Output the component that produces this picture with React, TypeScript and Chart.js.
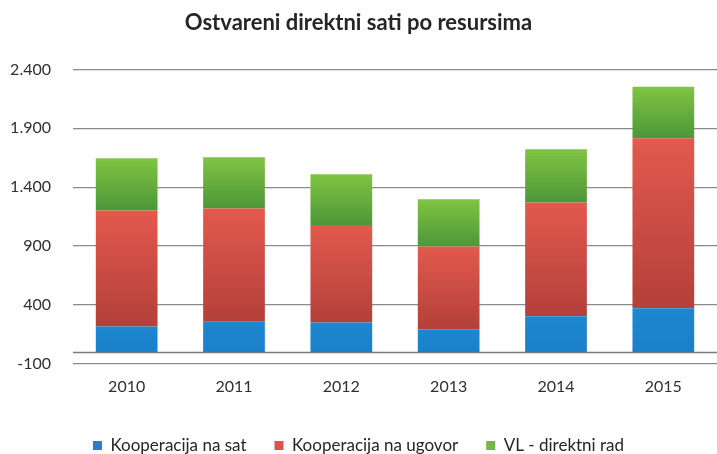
import React, { useEffect, useRef } from 'react';
import { Chart, registerables } from 'chart.js';

Chart.register(...registerables);

const TITLE = 'Ostvareni direktni sati po resursima';
const years = ['2010', '2011', '2012', '2013', '2014', '2015'];
const seriesNames = ['Kooperacija na sat', 'Kooperacija na ugovor', 'VL - direktni rad'];
const kooperacijaNaSat = [216, 258, 250, 194, 304, 372];
const kooperacijaNaUgovor = [986, 961, 828, 703, 966, 1443];
const vlDirektniRad = [444, 435, 432, 401, 452, 438];
const Y_MIN = -100;
const Y_MAX = 2400;
const Y_STEP = 500;

const seriesData = [kooperacijaNaSat, kooperacijaNaUgovor, vlDirektniRad];
// [top colour, bottom colour, legend colour]
const palette = [
  ['#1d87d1', '#1a80c8', '#2b7cc6'],
  ['#e3594d', '#b3403a', '#d9544e'],
  ['#80c442', '#4c9739', '#7ab648'],
];

const fmt = (v: number) => String(v).replace(/\B(?=(\d{3})+(?!\d))/g, '.');

const zeroLine = {
  id: 'zeroLine',
  beforeDatasetsDraw(chart: any) {
    const { ctx, chartArea, scales } = chart;
    const y = Math.round(scales.y.getPixelForValue(0)) + 0.5;
    ctx.save();
    ctx.strokeStyle = '#7a7a7a';
    ctx.lineWidth = 1.5;
    ctx.beginPath();
    ctx.moveTo(chartArea.left, y);
    ctx.lineTo(chartArea.right, y);
    ctx.stroke();
    ctx.restore();
  },
};

export default function App() {
  const ref = useRef<HTMLCanvasElement | null>(null);

  useEffect(() => {
    document.body.style.margin = '0';
    const canvas = ref.current;
    if (!canvas) return;

    const gradientFor = (si: number) => (ctx: any) => {
      const chart = ctx.chart;
      const yScale = chart.scales && chart.scales.y;
      const i = ctx.dataIndex;
      if (!yScale || i === undefined || !chart.chartArea) return palette[si][0];
      let base = 0;
      for (let k = 0; k < si; k++) base += seriesData[k][i];
      const top = base + seriesData[si][i];
      const y0 = yScale.getPixelForValue(top);
      const y1 = yScale.getPixelForValue(base);
      if (!isFinite(y0) || !isFinite(y1) || y0 === y1) return palette[si][0];
      const g = chart.ctx.createLinearGradient(0, y0, 0, y1);
      g.addColorStop(0, palette[si][0]);
      g.addColorStop(1, palette[si][1]);
      return g;
    };

    const chart = new Chart(canvas, {
      type: 'bar',
      data: {
        labels: years,
        datasets: seriesNames.map((name, si) => ({
          label: name,
          data: seriesData[si],
          backgroundColor: gradientFor(si),
          borderWidth: 0,
          categoryPercentage: 1,
          barPercentage: 0.575,
        })),
      },
      plugins: [zeroLine],
      options: {
        animation: false,
        responsive: false,
        maintainAspectRatio: false,
        layout: { padding: { left: 0, right: 0, top: 8, bottom: -10 } },
        plugins: {
          title: {
            display: true,
            text: TITLE,
            color: '#262626',
            font: { family: 'Lato', size: 22, weight: 'bold' },
            padding: { top: 2, bottom: 33 },
          },
          legend: {
            position: 'bottom',
            labels: {
              color: '#262626',
              font: { family: 'Lato', size: 17 },
              boxWidth: 9,
              boxHeight: 9,
              padding: 28,
              generateLabels: (c: any) => {
                const items = Chart.defaults.plugins.legend.labels.generateLabels(c);
                items.forEach((it: any, k: number) => {
                  it.fillStyle = palette[k][2];
                  it.strokeStyle = palette[k][2];
                  it.lineWidth = 0;
                });
                return items;
              },
            },
          },
          tooltip: { enabled: false },
        },
        scales: {
          x: {
            stacked: true,
            grid: { display: false, drawTicks: false },
            border: { display: false },
            ticks: {
              color: '#303030',
              font: { family: 'Lato', size: 16 },
              padding: 13,
            },
          },
          y: {
            stacked: true,
            min: Y_MIN,
            max: Y_MAX,
            grid: { color: '#8a8a8a', lineWidth: 1.2, drawTicks: false },
            border: { display: false },
            afterFit: (s: any) => {
              s.width = 73;
            },
            ticks: {
              stepSize: Y_STEP,
              color: '#303030',
              font: { family: 'Lato', size: 16 },
              padding: 22,
              callback: (v: any) => fmt(Number(v)),
            },
          },
        },
      },
    });
    return () => chart.destroy();
  }, []);

  return (
    <div style={{ width: 717, height: 454, background: '#fff' }}>
      <canvas ref={ref} width={717} height={454} style={{ display: 'block' }} />
    </div>
  );
}
